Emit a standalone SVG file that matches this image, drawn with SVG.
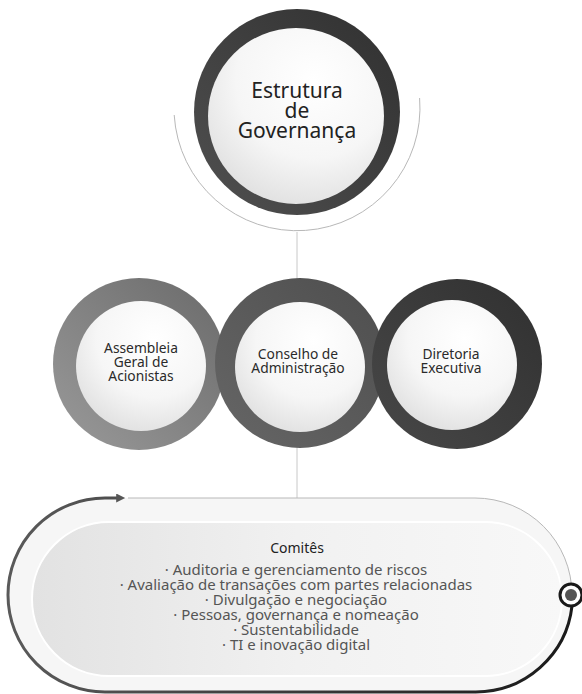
<svg xmlns="http://www.w3.org/2000/svg" width="582" height="694" viewBox="0 0 582 694">
<style>
  text { font-family: "Noto Sans", "Open Sans", "DejaVu Sans", sans-serif; text-anchor: middle; }
  .title { font-size: 21px; fill: #222; }
  .lbl { font-size: 13.8px; fill: #2a2a2a; }
  .head { font-size: 14px; fill: #222; }
  .item { font-size: 15px; fill: #555; }
  .thin { fill: none; stroke: #b8b8b8; stroke-width: 1; }
</style>
<defs>
  <radialGradient id="disc" cx="0.6" cy="0.3" r="0.8">
    <stop offset="0" stop-color="#ffffff"/>
    <stop offset="0.55" stop-color="#f6f6f6"/>
    <stop offset="1" stop-color="#dcdcdc"/>
  </radialGradient>
  <linearGradient id="ringTop" x1="0" y1="1" x2="1" y2="0">
    <stop offset="0" stop-color="#505050"/>
    <stop offset="1" stop-color="#303030"/>
  </linearGradient>
  <linearGradient id="ringA" x1="0" y1="1" x2="1" y2="0">
    <stop offset="0" stop-color="#9a9a9a"/>
    <stop offset="1" stop-color="#6a6a6a"/>
  </linearGradient>
  <linearGradient id="ringB" x1="0" y1="1" x2="1" y2="0">
    <stop offset="0" stop-color="#666"/>
    <stop offset="1" stop-color="#4e4e4e"/>
  </linearGradient>
  <linearGradient id="ringC" x1="0" y1="1" x2="1" y2="0">
    <stop offset="0" stop-color="#484848"/>
    <stop offset="1" stop-color="#303030"/>
  </linearGradient>
  <linearGradient id="pillIn" x1="0" y1="0" x2="1" y2="0">
    <stop offset="0" stop-color="#e2e2e2"/>
    <stop offset="0.5" stop-color="#f1f1f1"/>
    <stop offset="1" stop-color="#f8f8f8"/>
  </linearGradient>
  <linearGradient id="darkStroke" x1="0" y1="0" x2="1" y2="0">
    <stop offset="0" stop-color="#5a5a5a"/>
    <stop offset="1" stop-color="#1a1a1a"/>
  </linearGradient>
  <marker id="arrow" viewBox="0 0 10 10" refX="2" refY="5" markerWidth="12" markerHeight="9" markerUnits="userSpaceOnUse" orient="auto">
    <path d="M0,0 L10,5 L0,10 Z" fill="#555"/>
  </marker>
</defs>

<g id="connectors">
  <path class="thin" d="M 174.2 115 A 123 123 0 1 0 419.6 98"/>
  <line x1="297" y1="232" x2="297" y2="498" stroke="#c8c8c8" stroke-width="1"/>
</g>

<g id="node-estrutura">
  <circle cx="297" cy="112" r="103" fill="url(#ringTop)"/>
  <circle cx="296" cy="116" r="88" fill="url(#disc)"/>
  <text class="title" x="297" y="98">Estrutura</text>
  <text class="title" x="297" y="118">de</text>
  <text class="title" x="297" y="138">Governança</text>
</g>

<g id="node-assembleia">
  <circle cx="139" cy="364" r="86" fill="url(#ringA)"/>
  <circle cx="141" cy="366" r="65" fill="url(#disc)"/>
  <text class="lbl" x="141" y="353">Assembleia</text>
  <text class="lbl" x="141" y="367">Geral de</text>
  <text class="lbl" x="141" y="381">Acionistas</text>
</g>

<g id="node-conselho">
  <circle cx="300" cy="363" r="85" fill="url(#ringB)"/>
  <circle cx="300" cy="367" r="65" fill="url(#disc)"/>
  <text class="lbl" x="298" y="359">Conselho de</text>
  <text class="lbl" x="298" y="373">Administração</text>
</g>

<g id="node-diretoria">
  <circle cx="457" cy="364" r="85" fill="url(#ringC)"/>
  <circle cx="452" cy="365" r="65" fill="url(#disc)"/>
  <text class="lbl" x="451" y="359">Diretoria</text>
  <text class="lbl" x="451" y="373">Executiva</text>
</g>

<g id="node-comites">
  <rect x="8" y="498" width="564" height="194" rx="97" ry="97" fill="#f6f6f6"/>
  <rect x="32" y="522" width="530" height="154" rx="77" ry="77" fill="url(#pillIn)" stroke="#ffffff" stroke-width="2"/>
  <path class="thin" d="M 128 498 L 475 498 A 97 97 0 0 1 572 595"/>
  <path d="M 572 606 A 97 97 0 0 1 475 692 L 105 692 A 97 97 0 0 1 8 595 A 97 97 0 0 1 105 498 L 118 498" fill="none" stroke="url(#darkStroke)" stroke-width="3" marker-end="url(#arrow)"/>
  <circle cx="571" cy="595" r="11" fill="#fff" stroke="#1a1a1a" stroke-width="3"/>
  <circle cx="571" cy="595" r="6" fill="#555"/>
  <text class="head" x="297" y="553">Comitês</text>
  <text class="item" x="296" y="575">· Auditoria e gerenciamento de riscos</text>
  <text class="item" x="296" y="590">· Avaliação de transações com partes relacionadas</text>
  <text class="item" x="296" y="605">· Divulgação e negociação</text>
  <text class="item" x="296" y="620">· Pessoas, governança e nomeação</text>
  <text class="item" x="296" y="635">· Sustentabilidade</text>
  <text class="item" x="296" y="650">· TI e inovação digital</text>
</g>
</svg>
